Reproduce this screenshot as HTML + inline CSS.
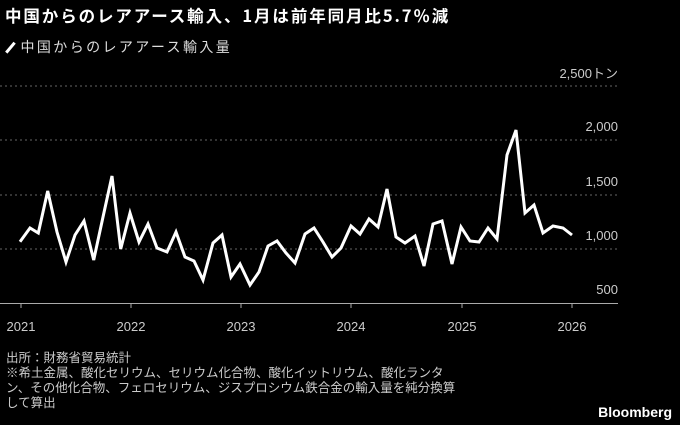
<!DOCTYPE html>
<html><head><meta charset="utf-8"><style>
body{margin:0;background:#000;width:680px;height:425px;overflow:hidden;font-family:"Liberation Sans","Noto Sans CJK JP",sans-serif;color:#fff}
.t{position:absolute;white-space:nowrap}
</style></head><body>
<div class="t" style="left:5px;top:3px;font-size:16.5px;font-weight:bold;font-family:'Noto Sans CJK JP',sans-serif;letter-spacing:1.9px">中国からのレアアース輸入、1月は前年同月比5.7％減</div>
<div class="t" style="left:4px;top:37px;font-size:14px;color:#ddd;font-family:'Noto Sans CJK JP',sans-serif;letter-spacing:2.4px"><span style="display:inline-block;width:2.5px;height:13px;background:#fff;transform:rotate(40deg);margin:0 9px -2px 5px"></span>中国からのレアアース輸入量</div>
<svg width="680" height="425" style="position:absolute;left:0;top:0" font-family="Liberation Sans, sans-serif">
<g stroke="#666" stroke-dasharray="2,3" stroke-width="1">
<line x1="0" x2="618" y1="86" y2="86"/><line x1="0" x2="618" y1="140" y2="140"/><line x1="0" x2="618" y1="195" y2="195"/><line x1="0" x2="618" y1="249" y2="249"/>
</g>
<line x1="0" x2="618" y1="303.5" y2="303.5" stroke="#aaa"/>
<g stroke="#aaa"><line x1="21" x2="21" y1="303" y2="308"/><line x1="131" x2="131" y1="303" y2="308"/><line x1="241" x2="241" y1="303" y2="308"/><line x1="351" x2="351" y1="303" y2="308"/><line x1="462" x2="462" y1="303" y2="308"/><line x1="572" x2="572" y1="303" y2="308"/></g>
<g fill="#ccc" font-size="13" text-anchor="end">
<text x="618" y="78">2,500<tspan font-family="Noto Sans CJK JP">トン</tspan></text>
<text x="618" y="131">2,000</text><text x="618" y="186">1,500</text><text x="618" y="240">1,000</text><text x="618" y="294">500</text>
</g>
<g fill="#ccc" font-size="13" text-anchor="middle">
<text x="21" y="331">2021</text><text x="131" y="331">2022</text><text x="241" y="331">2023</text><text x="351" y="331">2024</text><text x="462" y="331">2025</text><text x="572" y="331">2026</text>
</g>
<polyline fill="none" stroke="#fff" stroke-width="3" stroke-linejoin="miter" points="20,241.7 30,228 38.3,233 47.7,191 57,232 66,262 75,235 84,221 93.7,260 103,217 112,176 120.7,249 130,213 139,242 148,224 157,248 167,252 176,232 185,257 194,261 203,280 213,243 222,235 231,277 240,264 250,285 259,272 268,246 277,241 286,253 295,263 305,234 314,228 323,242 332,257 341,248 351,226 360,234 369,219 378,227 387,189 396,237 405,243 415,236 424,266 433,224 442,221 452,264 461,227 470,241 479,242 488,228 497,239 507,155 516,130 525,213 534,205 543,233 553,226 563,228 572,235"/>
</svg>
<div class="t" style="left:6px;top:351px;font-size:12.5px;color:#ccc;line-height:15px">出所：財務省貿易統計<br>※希土金属、酸化セリウム、セリウム化合物、酸化イットリウム、酸化ランタ<br>ン、その他化合物、フェロセリウム、ジスプロシウム鉄合金の輸入量を純分換算<br>して算出</div>
<div class="t" style="right:8px;top:404px;font-size:14px;font-weight:bold">Bloomberg</div>
</body></html>
